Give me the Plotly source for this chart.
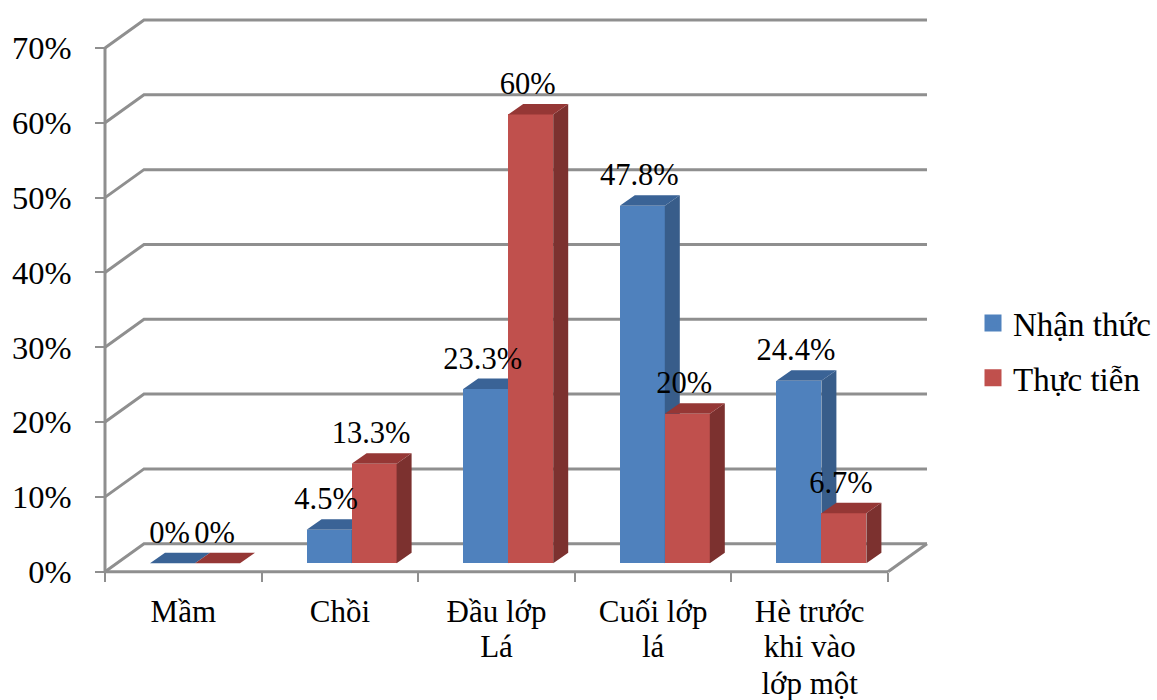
import plotly.graph_objects as go

# Chart data
categories = ["Mầm", "Chồi", "Đầu lớp", "Cuối lớp", "Hè trước"]
category_extra_lines = [[], [], ["Lá"], ["lá"], ["khi vào", "lớp một"]]
nhan_thuc = [0, 4.5, 23.3, 47.8, 24.4]
thuc_tien = [0, 13.3, 60, 20, 6.7]
y_ticks = [0, 10, 20, 30, 40, 50, 60, 70]

# Canvas size and where the front axes sit on it
W, H = 1157, 700
X_LEFT, X_RIGHT = 105, 888
Y_BOTTOM, Y_TOP = 571.7, 48
px_per_cat = (X_RIGHT - X_LEFT) / len(categories)
px_per_pct = (Y_BOTTOM - Y_TOP) / 70

# The axes span the whole canvas so the receding walls have room to draw
x_range = [-0.5 - X_LEFT / px_per_cat, -0.5 + (W - X_LEFT) / px_per_cat]
y_range = [-(H - Y_BOTTOM) / px_per_pct, Y_BOTTOM / px_per_pct]

# Pseudo-3D depth, expressed in axis units
wall_dx, wall_dy = 39 / px_per_cat, 28 / px_per_pct
bar_dx, bar_dy = 15 / px_per_cat, 10.5 / px_per_pct
bar_base = 8.4 / px_per_pct
bar_width = 45 / px_per_cat
blue_offset = -33.3 / px_per_cat
red_offset = blue_offset + bar_width
label_lift = 28 / px_per_pct
category_line_px = 37
category_first_line_px = 612

GREY = "#8f8f8f"
FONT = "Liberation Serif"
BLUE, BLUE_SIDE, BLUE_TOP = "#4F81BD", "#385D8A", "#3A6396"
RED, RED_SIDE, RED_TOP = "#C0504D", "#7C312F", "#953735"

fig = go.Figure()

# Walls: each gridline runs up the side wall and along the back
grid_x, grid_y = [], []
for v in y_ticks:
    grid_x += [-0.5, -0.5 + wall_dx, 4.5 + wall_dx, None]
    grid_y += [v, v + wall_dy, v + wall_dy, None]
grid_x += [4.5, 4.5 + wall_dx, None]
grid_y += [0, wall_dy, None]
# Front axis lines stop at the end of the value and category scales
grid_x += [-0.5, -0.5, None, -0.5, 4.5, None]
grid_y += [0, 70, None, 0, 0, None]
fig.add_trace(go.Scatter(x=grid_x, y=grid_y, mode="lines", line=dict(color=GREY, width=3),
                         showlegend=False, hoverinfo="skip"))


def faces(values, offset):
    """Outlines of the side and top faces of one series' bars."""
    side_x, side_y, top_x, top_y = [], [], [], []
    for i, v in enumerate(values):
        left = i + offset
        right = left + bar_width
        low, high = bar_base, bar_base + v
        if v > 0:
            side_x += [right, right + bar_dx, right + bar_dx, right, right, None]
            side_y += [low, low + bar_dy, high + bar_dy, high, low, None]
        top_x += [left, left + bar_dx, right + bar_dx, right, left, None]
        top_y += [high, high + bar_dy, high + bar_dy, high, high, None]
    return side_x, side_y, top_x, top_y


def add_series(values, offset, front, side, top, name, axis):
    xa, ya = f"x{axis}", f"y{axis}"
    fig.add_trace(go.Bar(x=list(range(len(values))), y=values, base=bar_base, width=bar_width,
                         offset=offset, marker=dict(color=front, line=dict(width=0)), name=name,
                         legendgroup=name, showlegend=False, xaxis=xa, yaxis=ya))
    side_x, side_y, top_x, top_y = faces(values, offset)
    for fx, fy, color in ((side_x, side_y, side), (top_x, top_y, top)):
        fig.add_trace(go.Scatter(x=fx, y=fy, mode="lines", fill="toself", fillcolor=color,
                                 line=dict(width=0, color=color),
                                 showlegend=False, hoverinfo="skip", xaxis=xa, yaxis=ya))
    # Legend entry with a larger swatch than the default
    fig.add_trace(go.Bar(x=[None], y=[None], name=name, legendgroup=name,
                         marker=dict(color=front, line=dict(color=front, width=5)),
                         xaxis=xa, yaxis=ya))


add_series(nhan_thuc, blue_offset, BLUE, BLUE_SIDE, BLUE_TOP, "Nhận thức", 2)
add_series(thuc_tien, red_offset, RED, RED_SIDE, RED_TOP, "Thực tiễn", 3)

# Value labels above each bar
label_x, label_y, label_text = [], [], []
for values, offset in ((nhan_thuc, blue_offset), (thuc_tien, red_offset)):
    for i, v in enumerate(values):
        label_x.append(i + offset + bar_width / 2 - 3 / px_per_cat)
        label_y.append(bar_base + v + label_lift)
        label_text.append(f"{v:g}%")
fig.add_trace(go.Scatter(x=label_x, y=label_y, text=label_text, mode="text",
                         textposition="middle center",
                         textfont=dict(family=FONT, size=30.5, color="black"),
                         showlegend=False, hoverinfo="skip", xaxis="x3", yaxis="y3"))

# Wrapped category names: lines after the first sit tighter than tick-label spacing allows
wrap_x, wrap_y, wrap_text = [], [], []
for i, lines in enumerate(category_extra_lines):
    for n, line in enumerate(lines, start=1):
        wrap_x.append(i)
        wrap_y.append((Y_BOTTOM - category_first_line_px - n * category_line_px) / px_per_pct)
        wrap_text.append(line)
fig.add_trace(go.Scatter(x=wrap_x, y=wrap_y, text=wrap_text, mode="text",
                         textposition="middle center",
                         textfont=dict(family=FONT, size=31, color="black"),
                         showlegend=False, hoverinfo="skip", xaxis="x3", yaxis="y3"))

hidden = dict(visible=False, fixedrange=True, automargin=False)
fig.update_layout(
    width=W, height=H, autosize=False,
    margin=dict(l=0, r=0, t=0, b=0),
    paper_bgcolor="white", plot_bgcolor="white",
    font=dict(family=FONT, color="black"),
    bargap=0,
    xaxis=dict(domain=[0, 1], range=x_range, anchor="free", position=(H - Y_BOTTOM) / H,
               tickmode="array", tickvals=list(range(len(categories))), ticktext=categories,
               tickfont=dict(family=FONT, size=31), ticks="", showgrid=False, zeroline=False,
               showline=False, ticklabelstandoff=18, automargin=False, fixedrange=True,
               minor=dict(tickmode="array", tickvals=[i - 0.5 for i in range(len(categories) + 1)],
                          ticks="outside", ticklen=9, tickwidth=2, tickcolor=GREY, showgrid=False)),
    yaxis=dict(domain=[0, 1], range=y_range, anchor="free", position=X_LEFT / W,
               tickmode="array", tickvals=y_ticks, ticktext=[f"{v}%" for v in y_ticks],
               tickfont=dict(family=FONT, size=32.5), ticks="outside", ticklen=10, tickwidth=2,
               tickcolor=GREY, showgrid=False, zeroline=False, showline=False,
               ticklabelstandoff=17, automargin=False, fixedrange=True),
    xaxis2=dict(domain=[0, 1], range=x_range, overlaying="x", anchor="y2", **hidden),
    yaxis2=dict(domain=[0, 1], range=y_range, overlaying="y", anchor="x2", **hidden),
    xaxis3=dict(domain=[0, 1], range=x_range, overlaying="x", anchor="y3", **hidden),
    yaxis3=dict(domain=[0, 1], range=y_range, overlaying="y", anchor="x3", **hidden),
    legend=dict(x=973 / W, xanchor="left", y=(H - 295) / H, yanchor="top",
                font=dict(family=FONT, size=33), bgcolor="rgba(0,0,0,0)",
                tracegroupgap=9, itemclick=False, itemdoubleclick=False),
)

fig.write_html("out.html", config=dict(displayModeBar=False))
